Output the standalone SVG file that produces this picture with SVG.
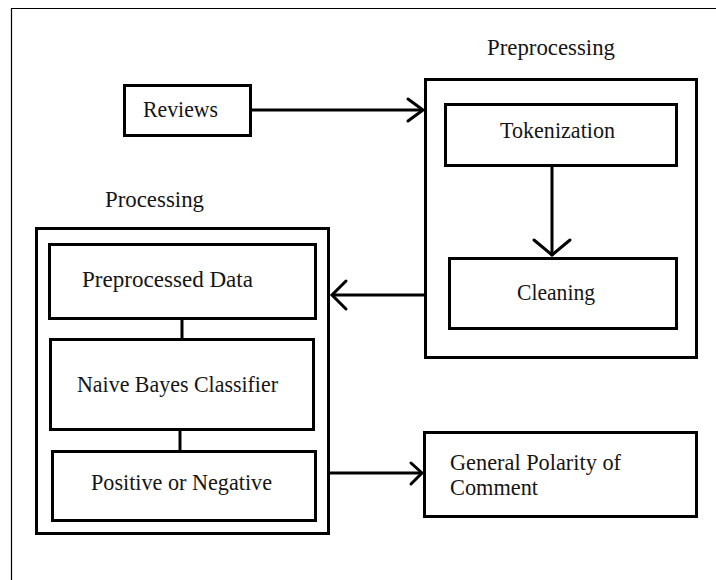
<svg xmlns="http://www.w3.org/2000/svg" width="716" height="580" viewBox="0 0 716 580">
<style>
.box{fill:#fff;stroke:#000;stroke-width:3}
.frame{fill:none;stroke:#000;stroke-width:1.2}
.t{font-family:"Liberation Serif","Times New Roman",serif;font-size:23px;fill:#151515}
.c{fill:none;stroke:#000;stroke-width:3}
.h{fill:none;stroke:#000;stroke-width:3;stroke-linecap:round;stroke-linejoin:miter}
</style>
<rect width="716" height="580" fill="#fff"/>
<path class="frame" d="M11.5,580 V8.5 H716"/>
<text class="t" x="487" y="55" textLength="128" lengthAdjust="spacingAndGlyphs">Preprocessing</text>
<text class="t" x="105" y="207" textLength="99" lengthAdjust="spacingAndGlyphs">Processing</text>
<g id="reviews"><rect class="box" x="124.5" y="85.5" width="126" height="50"/><text class="t" x="143" y="117" textLength="75" lengthAdjust="spacingAndGlyphs">Reviews</text></g>
<g id="preprocessing"><rect class="box" x="425.5" y="79.5" width="271" height="278"/></g>
<g id="tokenization"><rect class="box" x="445.5" y="104.5" width="231" height="61"/><text class="t" x="500" y="138" textLength="115" lengthAdjust="spacingAndGlyphs">Tokenization</text></g>
<g id="cleaning"><rect class="box" x="449.5" y="258.5" width="227" height="70"/><text class="t" x="517" y="300" textLength="78" lengthAdjust="spacingAndGlyphs">Cleaning</text></g>
<g id="processing"><rect class="box" x="36.5" y="228.5" width="292" height="305"/></g>
<g id="preprocessed"><rect class="box" x="49.5" y="244.5" width="266" height="74"/><text class="t" x="82" y="287" textLength="171" lengthAdjust="spacingAndGlyphs">Preprocessed Data</text></g>
<g id="naive"><rect class="box" x="50.5" y="339.5" width="263" height="90"/><text class="t" x="77" y="392" textLength="201" lengthAdjust="spacingAndGlyphs">Naive Bayes Classifier</text></g>
<g id="positive"><rect class="box" x="52.5" y="451.5" width="263" height="69"/><text class="t" x="91" y="490" textLength="181" lengthAdjust="spacingAndGlyphs">Positive or Negative</text></g>
<g id="general"><rect class="box" x="424.5" y="432.5" width="272" height="84"/><text class="t" x="450" y="470" textLength="171" lengthAdjust="spacingAndGlyphs">General Polarity of</text><text class="t" x="450" y="495" textLength="88" lengthAdjust="spacingAndGlyphs">Comment</text></g>
<g id="connectors">
<line class="c" x1="252" y1="110" x2="423" y2="110"/><polyline class="h" points="408,99 423,110 408,121"/>
<line class="c" x1="552" y1="167" x2="552" y2="256"/><polyline class="h" points="534,240 552,255 570,240"/>
<line class="c" x1="424" y1="295" x2="332" y2="295"/><polyline class="h" points="346,281 332,295 346,309"/>
<line class="c" x1="182" y1="320" x2="182" y2="338"/>
<line class="c" x1="180" y1="431" x2="180" y2="450"/>
<line class="c" x1="330" y1="473" x2="422" y2="473"/><polyline class="h" points="411,463 422,473 411,484"/>
</g>
</svg>
